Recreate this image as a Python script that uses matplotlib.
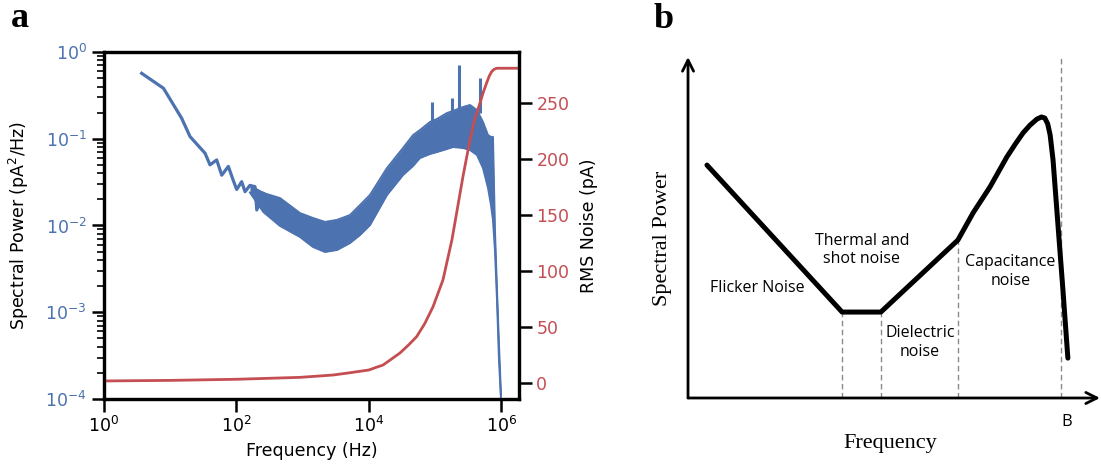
import matplotlib
matplotlib.use("Agg")
import matplotlib.pyplot as plt
from matplotlib.ticker import LogLocator, NullLocator, LogFormatterSciNotation, NullFormatter

BLUE = "#4c72b0"
RED = "#c44e52"

# --- panel a: measured spectrum (read off the figure) ---
# low-frequency part, drawn as a single line
psd_line_freq = [3.7, 7.9, 14.9, 19.9, 33.6, 39.9, 50.4, 60, 75.5, 89.7, 101, 120,
                 135, 160, 191, 203, 255]
psd_line_power = [0.568, 0.382, 0.172, 0.106, 0.068, 0.050, 0.057, 0.038, 0.048, 0.033,
                  0.026, 0.032, 0.0245, 0.029, 0.028, 0.0151, 0.0235]

# higher-frequency part is a dense band: upper and lower envelopes
psd_band_freq = [160, 255, 456, 914, 1436, 2178, 3311, 5200, 7362, 10420, 18840, 32890,
                 46560, 59290, 83950, 107200, 151700, 187100, 264900, 338100, 430500,
                 530900, 632400, 701500, 751600, 805400, 865000, 926800, 993100]
psd_band_upper = [0.029, 0.0237, 0.0207, 0.0139, 0.0122, 0.0110, 0.0116, 0.0132, 0.0172,
                  0.0225, 0.0460, 0.0782, 0.110, 0.126, 0.156, 0.169, 0.198, 0.209,
                  0.232, 0.245, 0.214, 0.156, 0.110, 0.105, 0.105, 0.00887, 0.00180,
                  0.000419, 0.000111]
psd_band_lower = [0.024, 0.0143, 0.00987, 0.00737, 0.00565, 0.00495, 0.00522, 0.00628,
                  0.00777, 0.0101, 0.0225, 0.0382, 0.0485, 0.0600, 0.0667, 0.0703,
                  0.0762, 0.0803, 0.0782, 0.0741, 0.0650, 0.0460, 0.0271, 0.0172,
                  0.0116, 0.00522, 0.00138, 0.000282, 0.0001]

# narrow peaks sticking out of the band
spike_freq = [89100, 178700, 232900, 478600]
spike_top = [0.267, 0.292, 0.708, 0.498]
spike_base = [0.15, 0.2, 0.22, 0.2]

# cumulative RMS noise
rms_freq = [1, 10, 100, 911, 2880, 5000, 10070, 13000, 16400, 21000, 29600, 40000,
            52900, 70000, 93300, 132000, 180600, 220000, 265000, 338000, 400000,
            478600, 540000, 604000, 660000, 719000, 780000, 855000, 1795000]
rms_noise = [1.8, 2.3, 3.3, 5.0, 7.1, 9.0, 11.6, 14, 16, 20.5, 26.8, 34, 41.4, 53, 68,
             92, 128, 157, 184.5, 217, 236, 250, 260, 268, 274, 278, 280, 281, 281]

# --- panel b: schematic (arbitrary units, 0-100 on both axes) ---
sketch_freq = [4.6, 37.4, 46.8, 65.5, 69.2, 73.3, 77.4, 79.4, 81.3, 83.0, 84.7, 85.8,
               86.6, 87.3, 87.9, 88.6, 89.8, 91.0, 92.2]
sketch_power = [68.3, 25.2, 25.2, 46.3, 54.3, 61.9, 70.7, 74.4, 77.7, 80.0, 81.8, 82.4,
                82.1, 80.4, 77.1, 69.8, 50.7, 31.7, 11.7]
boundary_freq = [37.4, 46.8, 65.5, 90.5]
boundary_top = [25.2, 25.2, 46.3, 100]

fig = plt.figure(figsize=(11.01, 4.71), dpi=100)

# ---------------- panel a ----------------
ax = fig.add_axes([0.0945, 0.1529, 0.3769, 0.7367])
ax.set_xscale("log")
ax.set_yscale("log")

ax.plot(psd_line_freq, psd_line_power, color=BLUE, lw=2.3, solid_joinstyle="round")
ax.fill_between(psd_band_freq, psd_band_lower, psd_band_upper, color=BLUE, lw=0)
ax.plot(psd_band_freq, psd_band_upper, color=BLUE, lw=1.4)
ax.plot(psd_band_freq, psd_band_lower, color=BLUE, lw=1.4)
ax.vlines(spike_freq, spike_base, spike_top, color=BLUE, lw=2.2)

ax.set_xlim(1, 1.86e6)
ax.set_ylim(1e-4, 1)
ax.set_xticks([1, 1e2, 1e4, 1e6])
ax.xaxis.set_major_formatter(LogFormatterSciNotation())
ax.xaxis.set_minor_locator(NullLocator())
ax.yaxis.set_major_locator(LogLocator(base=10, numticks=10))
ax.yaxis.set_minor_locator(LogLocator(base=10, subs=range(2, 10), numticks=20))
ax.yaxis.set_minor_formatter(NullFormatter())

ax.tick_params(axis="both", which="major", length=9, width=1.8, labelsize=12.5, pad=3.5)
ax.tick_params(axis="y", which="minor", length=5, width=1.2)
ax.tick_params(axis="y", colors="black", labelcolor=BLUE)
for sp in ax.spines.values():
    sp.set_linewidth(2.3)

ax.set_xlabel("Frequency (Hz)", fontsize=12.5, labelpad=4)
ax.set_ylabel("Spectral Power (pA$^2$/Hz)", fontsize=12.5, labelpad=10)

ax2 = ax.twinx()
ax2.plot(rms_freq, rms_noise, color=RED, lw=2.0)
ax2.set_ylim(-14.3, 295.5)
ax2.set_yticks([0, 50, 100, 150, 200, 250])
ax2.tick_params(axis="y", length=9, width=1.8, labelsize=12.5, labelcolor=RED, pad=3.5)
for sp in ax2.spines.values():
    sp.set_linewidth(2.3)
ax2.set_ylabel("RMS Noise (pA)", fontsize=12.5, labelpad=8)

fig.text(0.010, 0.943, "a", fontsize=26, fontweight="bold", family="Liberation Serif",
         va="baseline", ha="left")

# ---------------- panel b ----------------
bx = fig.add_axes([0.6249, 0.155, 0.3742, 0.724])
bx.set_xlim(0, 100)
bx.set_ylim(0, 100)
bx.axis("off")

bx.vlines(boundary_freq, 0, boundary_top, colors="#8a8a8a", lw=1.0,
          linestyles=(0, (4, 2.5)))
bx.plot(sketch_freq, sketch_power, color="black", lw=3.6, solid_capstyle="round",
        solid_joinstyle="round")

arrow = dict(arrowstyle="->,head_length=0.8,head_width=0.4", lw=2.0, color="black",
             shrinkA=0, shrinkB=0)
bx.annotate("", xy=(0, 100), xytext=(0, 0), arrowprops=arrow, annotation_clip=False)
bx.annotate("", xy=(100, 0), xytext=(0, 0), arrowprops=arrow, annotation_clip=False)

label_font = dict(fontsize=11.5, family="Open Sans", ha="center", va="center",
                  linespacing=1.2)
bx.text(42.2, 43.4, "Thermal and\nshot noise", **label_font)
bx.text(16.7, 32.3, "Flicker Noise", **label_font)
bx.text(56.3, 16.3, "Dielectric\nnoise", **label_font)
bx.text(78.2, 37.1, "Capacitance\nnoise", **label_font)
bx.text(92.0, -7.0, "B", fontsize=12, family="Open Sans", ha="center", va="center")
bx.text(49.0, -13.2, "Frequency", fontsize=16, family="Liberation Serif",
        ha="center", va="center")
bx.text(-6.3, 46.9, "Spectral Power", fontsize=16, family="Liberation Serif",
        ha="center", va="center", rotation=90)

fig.text(0.594, 0.941, "b", fontsize=26, fontweight="bold", family="Liberation Serif",
         va="baseline", ha="left")

fig.savefig("out.png", dpi=100)
